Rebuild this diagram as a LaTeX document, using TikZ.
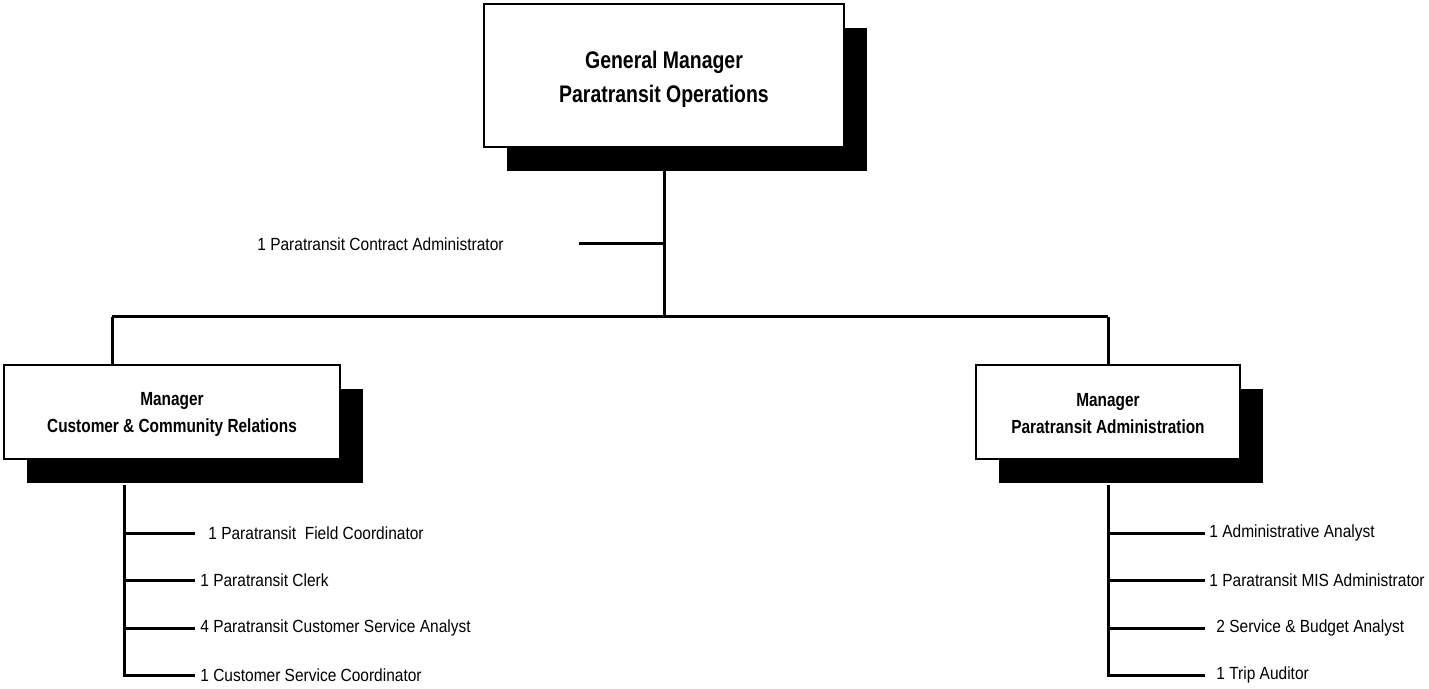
\documentclass[tikz,border=0pt]{standalone}
\usepackage{fontspec}
\setmainfont{Liberation Sans}[FakeStretch=0.88]
\newfontfamily\titlefont{Liberation Sans}[FakeStretch=0.81]
\usetikzlibrary{shadows}
\begin{document}
\begin{tikzpicture}[x=0.5pt,y=-0.5pt,
  orgbox/.style={draw=black,line width=1pt,fill=white,inner sep=0pt,
    drop shadow={shadow xshift=11.5pt,shadow yshift=-12pt,fill=black,opacity=1}},
  boxtext/.style={inner sep=0pt,align=center},
  conn/.style={line width=1.5pt},
  item/.style={anchor=west,inner sep=0pt,font=\fontsize{8.8}{10}\selectfont}]
\useasboundingbox (0,0) rectangle (1429,689);
\node[orgbox,minimum width=180pt,minimum height=71.5pt] (gm) at (664,75.5) {};
\node[boxtext,font=\titlefont\fontsize{12}{17}\selectfont\bfseries] (gmt) at ([yshift=-2pt]gm.center) {General Manager\\Paratransit Operations};
\node[orgbox,minimum width=168pt,minimum height=47pt] (ccr) at (172,412) {};
\node[boxtext,font=\titlefont\fontsize{9.5}{13.5}\selectfont\bfseries] (ccrt) at ([yshift=-1pt]ccr.center) {Manager\\Customer \& Community Relations};
\node[orgbox,minimum width=132pt,minimum height=47pt] (pa) at (1108,412) {};
\node[boxtext,font=\titlefont\fontsize{9.5}{13.5}\selectfont\bfseries] (pat) at ([yshift=-1pt]pa.center) {Manager\\Paratransit Administration};
% top connectors
\coordinate (jca) at (664,244);
\coordinate (ca-tip) at (579,244);
\coordinate (jbar) at (664,317);
\coordinate (barL) at (112,317);
\coordinate (barR) at (1108,317);
\node[item] (ca) at (257,244) {1 Paratransit Contract Administrator};
\draw[conn] (gm.south) -- (jbar);
\draw[conn] (jca) -- (ca-tip);
\draw[conn] (barL) -- (barR);
\draw[conn] (barL) -- (barL |- ccr.north);
\draw[conn] (barR) -- (pa.north);
% left list
\coordinate (lt) at (124,485);
\coordinate (l1) at (124,533);
\coordinate (l2) at (124,580);
\coordinate (l3) at (124,628);
\coordinate (l4) at (124,675);
\coordinate (le1) at (195,533);
\coordinate (le2) at (195,580);
\coordinate (le3) at (195,628);
\coordinate (le4) at (195,675);
\node[item] (i1) at (208,533) {1 Paratransit\ \ Field Coordinator};
\node[item] (i2) at (200,580) {1 Paratransit Clerk};
\node[item] (i3) at (200,628) {4 Paratransit Customer Service Analyst};
\node[item] (i4) at (200,675) {1 Customer Service Coordinator};
\draw[conn] (lt) -- (l4) -- (le4);
\draw[conn] (l1) -- (le1);
\draw[conn] (l2) -- (le2);
\draw[conn] (l3) -- (le3);
% right list
\coordinate (rt) at (1108,485);
\coordinate (r1) at (1108,533);
\coordinate (r2) at (1108,580);
\coordinate (r3) at (1108,628);
\coordinate (r4) at (1108,675);
\coordinate (re1) at (1205,533);
\coordinate (re2) at (1205,580);
\coordinate (re3) at (1205,628);
\coordinate (re4) at (1205,675);
\node[item] (j1) at (1209,533) {1 Administrative Analyst};
\node[item] (j2) at (1209,580) {1 Paratransit MIS Administrator};
\node[item] (j3) at (1216,628) {2 Service \& Budget Analyst};
\node[item] (j4) at (1216,675) {1 Trip Auditor};
\draw[conn] (rt) -- (r4) -- (re4);
\draw[conn] (r1) -- (re1);
\draw[conn] (r2) -- (re2);
\draw[conn] (r3) -- (re3);
\end{tikzpicture}
\end{document}
